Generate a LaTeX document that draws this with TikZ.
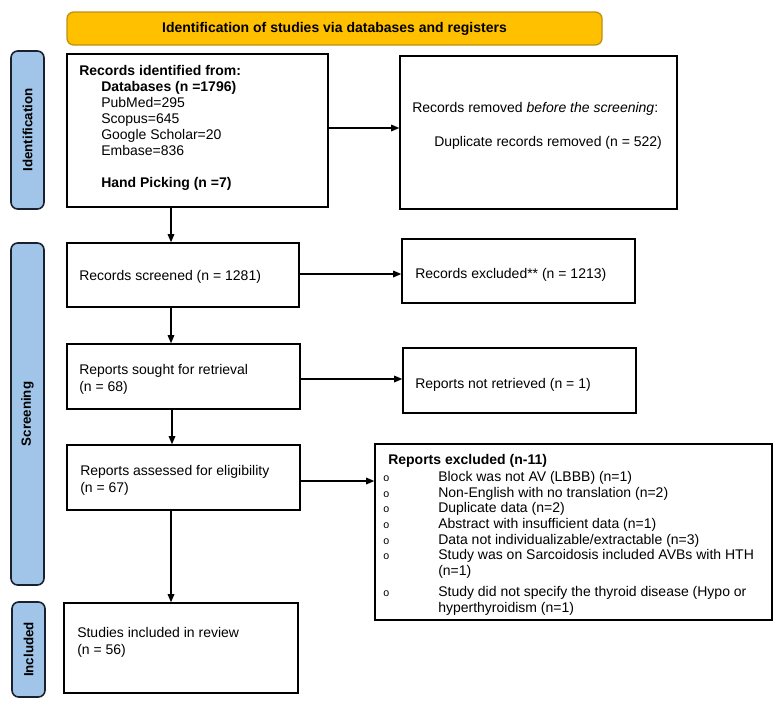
\documentclass[tikz,border=0pt]{standalone}
\usepackage{fontspec}
\setmainfont{Liberation Sans}
\usetikzlibrary{arrows.meta}
\definecolor{hdrfill}{RGB}{255,192,0}
\definecolor{hdrline}{RGB}{190,145,20}
\definecolor{sidefill}{RGB}{160,197,233}
\definecolor{sideline}{RGB}{25,32,48}
\newcommand\fstrut{\rule{0pt}{9pt}}
\begin{document}
\begin{tikzpicture}[x=0.75pt,y=-0.75pt,
  every node/.style={font=\fontsize{10.5}{13}\selectfont},
  box/.style={draw=black, line width=1.2pt, inner sep=0pt, anchor=center},
  txt/.style={anchor=north west, inner sep=0pt, align=left},
  side/.style={draw=sideline, fill=sidefill, line width=1.2pt, rounded corners=5pt,
    rotate=90, inner sep=0pt, minimum height=24.75pt, font=\fontsize{10}{12}\selectfont\bfseries},
  arr/.style={-{Triangle[length=6pt,width=5pt]}, line width=0.8pt}]
\useasboundingbox (0,0) rectangle (780,707);

% header
\node[draw=hdrline, fill=hdrfill, line width=1pt, rounded corners=5pt,
  minimum width=401.25pt, minimum height=24.75pt, inner sep=0pt,
  font=\fontsize{10.5}{13}\selectfont\bfseries] (head) at (334.5,28.5)
  {Identification of studies via databases and registers};

% side bars
\node[side, minimum width=118.5pt] (sideid) at (27.5,130) {Identification};
\node[side, minimum width=256.5pt] (sidescr) at (27.5,414) {Screening};
\node[side, minimum width=71.25pt] (sideinc) at (28.5,649.5) {Included};

% boxes
\node[box, minimum width=195.75pt, minimum height=114.75pt] (ident) at (197.5,130.5) {};
\node[box, minimum width=207.75pt, minimum height=114.75pt] (removed) at (538.5,132.5) {};
\node[box, minimum width=174pt, minimum height=48pt] (screened) at (183,275) {};
\node[box, minimum width=174.75pt, minimum height=48pt] (excluded) at (518.5,271) {};
\node[box, minimum width=174.75pt, minimum height=48.75pt] (sought) at (183.5,376.5) {};
\node[box, minimum width=174.75pt, minimum height=48.75pt] (notret) at (519.5,380.5) {};
\node[box, minimum width=174.75pt, minimum height=48.75pt] (assessed) at (183.5,477.5) {};
\node[box, minimum width=297.75pt, minimum height=132pt] (repexcl) at (573.5,532) {};
\node[box, minimum width=175.5pt, minimum height=67.5pt] (included) at (181,648) {};

% texts
\node[txt, font=\fontsize{10.5}{12}\selectfont] (identtxt) at (79,63) {\fstrut\textbf{Records identified from:}\\
\hspace*{16.5pt}\textbf{Databases (n =1796)}\\
\hspace*{16.5pt}PubMed=295\\
\hspace*{16.5pt}Scopus=645\\
\hspace*{16.5pt}Google Scholar=20\\
\hspace*{16.5pt}Embase=836\\[12pt]
\hspace*{16.5pt}\textbf{Hand Picking (n =7)}};

\node[txt] (removedtxt) at (412,100) {\fstrut Records removed \textit{before the screening}:\\[12.5pt]
\hspace*{16.5pt}Duplicate records removed (n = 522)};

\node[txt] (screenedtxt) at (79,268) {\fstrut Records screened (n = 1281)};
\node[txt] (excludedtxt) at (415,266) {\fstrut Records excluded** (n = 1213)};
\node[txt, font=\fontsize{10.5}{12.75}\selectfont] (soughttxt) at (79,362) {\fstrut Reports sought for retrieval\\(n = 68)};
\node[txt] (notrettxt) at (415,376) {\fstrut Reports not retrieved (n = 1)};
\node[txt, font=\fontsize{10.5}{12.75}\selectfont] (assessedtxt) at (80,463) {\fstrut Reports assessed for eligibility\\(n = 67)};
\node[txt, font=\fontsize{10.5}{12.75}\selectfont] (includedtxt) at (77,625) {\fstrut Studies included in review\\(n = 56)};

\node[txt, font=\fontsize{10.5}{11.7}\selectfont] (repexcltxt) at (388,452) {\fstrut\textbf{Reports excluded (n-11)}\\[1.3pt]
\hspace*{-3.75pt}\makebox[41.25pt][l]{\fontsize{8}{8}\selectfont o}Block was not AV (LBBB) (n=1)\\
\hspace*{-3.75pt}\makebox[41.25pt][l]{\fontsize{8}{8}\selectfont o}Non-English with no translation (n=2)\\
\hspace*{-3.75pt}\makebox[41.25pt][l]{\fontsize{8}{8}\selectfont o}Duplicate data (n=2)\\
\hspace*{-3.75pt}\makebox[41.25pt][l]{\fontsize{8}{8}\selectfont o}Abstract with insufficient data (n=1)\\
\hspace*{-3.75pt}\makebox[41.25pt][l]{\fontsize{8}{8}\selectfont o}Data not individualizable/extractable (n=3)\\
\hspace*{-3.75pt}\makebox[41.25pt][l]{\fontsize{8}{8}\selectfont o}Study was on Sarcoidosis included AVBs with HTH\\
\hspace*{37.5pt}(n=1)\\[4.5pt]
\hspace*{-3.75pt}\makebox[41.25pt][l]{\fontsize{8}{8}\selectfont o}Study did not specify the thyroid disease (Hypo or\\
\hspace*{37.5pt}hyperthyroidism (n=1)};

% connectors
\draw[arr] (ident.east |- 0,128) -- (removed.west |- 0,128);
\draw[arr] (ident.south -| 171,0) -- (screened.north -| 171,0);
\draw[arr] (screened.east |- 0,274) -- (excluded.west |- 0,274);
\draw[arr] (screened.south -| 171,0) -- (sought.north -| 171,0);
\draw[arr] (sought.east |- 0,379) -- (notret.west |- 0,379);
\draw[arr] (sought.south -| 172,0) -- (assessed.north -| 172,0);
\draw[arr] (assessed.east |- 0,481) -- (repexcl.west |- 0,481);
\draw[arr] (assessed.south -| 171,0) -- (included.north -| 171,0);
\end{tikzpicture}
\end{document}
